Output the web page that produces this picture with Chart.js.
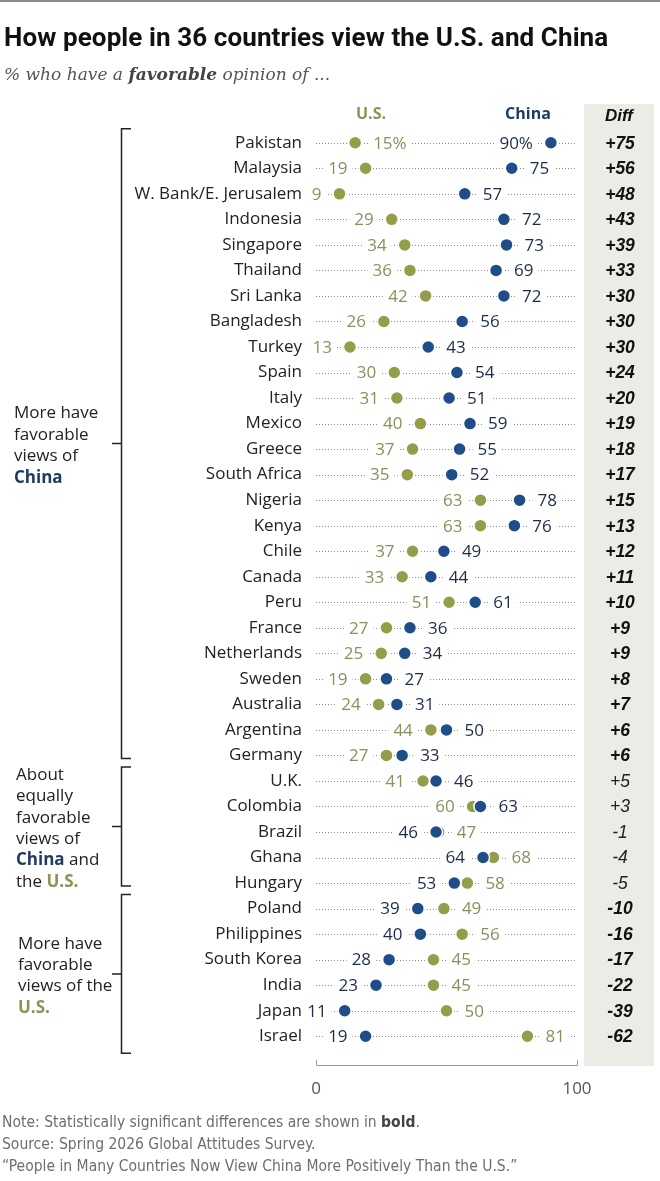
<!DOCTYPE html>
<html>
<head>
<meta charset="utf-8">
<script src="https://cdn.jsdelivr.net/npm/chart.js@4.4.1/dist/chart.umd.min.js"></script>
<style>
  html, body { margin: 0; padding: 0; background: #fff; }
  #page { position: relative; width: 660px; height: 1181px; overflow: hidden; }
  #rule { position: absolute; left: 0; top: 0; width: 660px; height: 2px; background: #8a8a8a; }
  #chart { position: absolute; left: 0; top: 0; }
  .title { position: absolute; left: 4px; top: 22px; font: 700 26px Roboto, "Liberation Sans", sans-serif; color: #111; line-height: 30px; white-space: nowrap; letter-spacing: 0.1px; }
  .subtitle { position: absolute; left: 4px; top: 63px; font: italic 17px "DejaVu Serif", serif; color: #555; line-height: 22px; white-space: nowrap; }
  .subtitle b { color: #444; }
  .notes { position: absolute; left: 2px; top: 1111px; font: 15.5px "Liberation Sans Narrow", "DejaVu Sans Condensed", sans-serif; color: #6e6e6e; line-height: 22px; white-space: nowrap; }
  .notes b { color: #444; }
</style>
</head>
<body>
<div id="page">
  <div id="rule"></div>
  <canvas id="chart" width="660" height="1181"></canvas>
  <div class="title">How people in 36 countries view the U.S. and China</div>
  <div class="subtitle">% who have a <b>favorable</b> opinion of ...</div>
  <div class="notes">
    Note: Statistically significant differences are shown in <b>bold</b>.<br>
    Source: Spring 2026 Global Attitudes Survey.<br>
    “People in Many Countries Now View China More Positively Than the U.S.”
  </div>
</div>
<script>
// countries, top to bottom
const countries = ["Pakistan", "Malaysia", "W. Bank/E. Jerusalem", "Indonesia", "Singapore",
  "Thailand", "Sri Lanka", "Bangladesh", "Turkey", "Spain", "Italy", "Mexico", "Greece",
  "South Africa", "Nigeria", "Kenya", "Chile", "Canada", "Peru", "France", "Netherlands",
  "Sweden", "Australia", "Argentina", "Germany", "U.K.", "Colombia", "Brazil", "Ghana",
  "Hungary", "Poland", "Philippines", "South Korea", "India", "Japan", "Israel"];

// % favorable of the U.S.
const usValues = [15, 19, 9, 29, 34, 36, 42, 26, 13, 30, 31, 40, 37, 35, 63, 63, 37, 33, 51,
  27, 25, 19, 24, 44, 27, 41, 60, 47, 68, 58, 49, 56, 45, 45, 50, 81];

// % favorable of China
const chinaValues = [90, 75, 57, 72, 73, 69, 72, 56, 43, 54, 51, 59, 55, 52, 78, 76, 49, 44, 61,
  36, 34, 27, 31, 50, 33, 46, 63, 46, 64, 53, 39, 40, 28, 23, 11, 19];

// Diff column as printed, and whether it is shown in bold
const diffs = ["+75", "+56", "+48", "+43", "+39", "+33", "+30", "+30", "+30", "+24", "+20",
  "+19", "+18", "+17", "+15", "+13", "+12", "+11", "+10", "+9", "+9", "+8", "+7", "+6", "+6",
  "+5", "+3", "-1", "-4", "-5", "-10", "-16", "-17", "-22", "-39", "-62"];
const significant = [true, true, true, true, true, true, true, true, true, true, true, true,
  true, true, true, true, true, true, true, true, true, true, true, true, true,
  false, false, false, false, false, true, true, true, true, true, true];

const xTicks = [0, 100];

// bracket groups: first row, last row, text lines (segments of [text, highlight])
const groups = [
  { from: 0, to: 24, lines: [[["More have"]], [["favorable"]], [["views of"]], [["China", "china"]]] },
  { from: 25, to: 29, lines: [[["About"]], [["equally"]], [["favorable"]], [["views of"]],
      [["China", "china"], [" and"]], [["the "], ["U.S.", "us"]]] },
  { from: 30, to: 35, lines: [[["More have"]], [["favorable"]], [["views of the"]], [["U.S.", "us"]]] }
];

const US_DOT = '#959d4b';
const CHINA_DOT = '#1e4d87';
const US_TEXT = '#8b8f5e';
const CHINA_TEXT = '#1c2d49';
const US_HEAD = '#8c9355';
const CHINA_HEAD = '#1f3b63';
const SANS = '"Open Sans", "Liberation Sans", sans-serif';

const extras = {
  id: 'extras',
  beforeDraw(chart) {
    const { ctx } = chart;
    ctx.save();
    ctx.fillStyle = '#ecebe6';
    ctx.fillRect(584, 104, 70, 962);
    ctx.restore();
  },
  beforeDatasetsDraw(chart) {
    const { ctx, scales: { x, y } } = chart;
    const x0 = x.getPixelForValue(0), x100 = x.getPixelForValue(100);
    ctx.save();
    // dotted row lines
    ctx.strokeStyle = '#8a8a8a';
    ctx.lineWidth = 1;
    ctx.setLineDash([1, 2]);
    countries.forEach((c, i) => {
      const py = Math.round(y.getPixelForValue(i)) + 0.5;
      ctx.beginPath();
      ctx.moveTo(x0, py);
      ctx.lineTo(x100, py);
      ctx.stroke();
    });
    ctx.setLineDash([]);

    // value labels: lower value on the left, higher on the right
    ctx.font = '17px ' + SANS;
    ctx.textBaseline = 'middle';
    ctx.textAlign = 'left';
    const GAP = 18;
    countries.forEach((c, i) => {
      const py = y.getPixelForValue(i);
      const pct = i === 0 ? '%' : '';
      const pts = [
        { v: usValues[i], color: US_TEXT },
        { v: chinaValues[i], color: CHINA_TEXT }
      ].sort((a, b) => a.v - b.v);
      let loSide = -1, hiSide = 1;
      const hiW = ctx.measureText(pts[1].v + pct).width;
      if (x.getPixelForValue(pts[1].v) + GAP + hiW > x100) { loSide = 1; hiSide = -1; }
      [[pts[0], loSide], [pts[1], hiSide]].forEach(([p, side]) => {
        const txt = p.v + pct;
        const w = ctx.measureText(txt).width;
        const px = x.getPixelForValue(p.v);
        const tx = side > 0 ? px + GAP : px - GAP - w;
        ctx.fillStyle = '#fff';
        ctx.fillRect(tx - 5, py - 4, w + 10, 8);
        ctx.fillStyle = p.color;
        ctx.fillText(txt, tx, py + 1);
      });
    });
    ctx.restore();
  },
  afterDraw(chart) {
    const { ctx, scales: { x, y } } = chart;
    const x0 = x.getPixelForValue(0), x100 = x.getPixelForValue(100);
    ctx.save();

    // axis line with end ticks
    ctx.strokeStyle = '#9a9a9a';
    ctx.lineWidth = 1;
    ctx.beginPath();
    ctx.moveTo(x0 + 0.5, 1060);
    ctx.lineTo(x0 + 0.5, 1065.5);
    ctx.lineTo(x100 + 0.5, 1065.5);
    ctx.lineTo(x100 + 0.5, 1060);
    ctx.stroke();

    // column headers
    ctx.textBaseline = 'middle';
    ctx.textAlign = 'center';
    ctx.font = 'bold 16px ' + SANS;
    ctx.fillStyle = US_HEAD;
    ctx.fillText('U.S.', 371, 114);
    ctx.fillStyle = CHINA_HEAD;
    ctx.fillText('China', 528, 114);
    ctx.fillStyle = '#111';
    ctx.font = 'italic bold 17px "Liberation Sans", sans-serif';
    ctx.fillText('Diff', 619, 116);

    // diff values
    countries.forEach((c, i) => {
      const py = y.getPixelForValue(i);
      ctx.font = (significant[i] ? 'italic bold 17.5px ' : 'italic 17.5px ') + '"Liberation Sans", sans-serif';
      ctx.fillStyle = significant[i] ? '#111' : '#222';
      ctx.fillText(diffs[i], 620, py + 1);
    });

    // brackets and group labels
    ctx.strokeStyle = '#222';
    ctx.lineWidth = 1.5;
    groups.forEach((g, gi) => {
      const top = y.getPixelForValue(g.from) - 14;
      const bottom = y.getPixelForValue(g.to) + (gi === groups.length - 1 ? 17 : 3);
      const mid = (top + bottom) / 2;
      const bx = 121.5;
      ctx.beginPath();
      ctx.moveTo(131, top);
      ctx.lineTo(bx, top);
      ctx.lineTo(bx, bottom);
      ctx.lineTo(131, bottom);
      ctx.moveTo(bx, mid);
      ctx.lineTo(112, mid);
      ctx.stroke();

      const lh = 21.4;
      const startY = mid + 2 - (g.lines.length - 1) * lh / 2;
      const lx = 14 + gi * 2;
      ctx.textAlign = 'left';
      g.lines.forEach((line, li) => {
        let cx = lx;
        line.forEach(([t, hl]) => {
          ctx.font = (hl ? 'bold 17px ' : '17px ') + SANS;
          ctx.fillStyle = hl === 'china' ? CHINA_HEAD : hl === 'us' ? US_HEAD : '#222';
          ctx.fillText(t, cx, startY + li * lh);
          cx += ctx.measureText(t).width;
        });
      });
    });
    ctx.restore();
  }
};

new Chart(document.getElementById('chart'), {
  type: 'line',
  data: {
    labels: countries,
    datasets: [
      {
        label: 'China',
        data: chinaValues,
        showLine: false,
        pointRadius: 6.5,
        pointBackgroundColor: CHINA_DOT,
        pointBorderColor: '#fff',
        pointBorderWidth: 1.5,
        order: 0
      },
      {
        label: 'U.S.',
        data: usValues,
        showLine: false,
        pointRadius: 6.5,
        pointBackgroundColor: US_DOT,
        pointBorderColor: '#fff',
        pointBorderWidth: 1.5,
        order: 1
      }
    ]
  },
  options: {
    indexAxis: 'y',
    responsive: false,
    animation: false,
    layout: { padding: { top: 130, right: 83, bottom: 72, left: 0 } },
    plugins: {
      legend: { display: false },
      tooltip: { enabled: false }
    },
    scales: {
      x: {
        type: 'linear',
        min: 0,
        max: 100,
        afterBuildTicks: (scale) => { scale.ticks = xTicks.map(v => ({ value: v })); },
        afterFit: (scale) => { scale.height = 60; },
        grid: { display: false, drawTicks: false },
        border: { display: false },
        ticks: { padding: 30, color: '#555', font: { family: SANS, size: 17 } }
      },
      y: {
        type: 'category',
        offset: true,
        afterFit: (scale) => { scale.width = 316; },
        grid: { display: false, drawTicks: false },
        border: { display: false },
        ticks: { padding: 14, color: '#222', autoSkip: false, font: { family: SANS, size: 17 } }
      }
    }
  },
  plugins: [extras]
});
</script>
</body>
</html>
